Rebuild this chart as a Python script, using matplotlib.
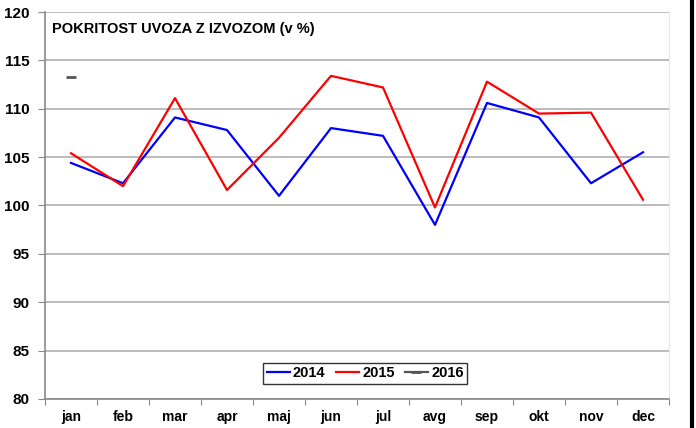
import matplotlib
matplotlib.use("Agg")
import matplotlib.pyplot as plt
from matplotlib.lines import Line2D

plt.rcParams['font.family'] = ['Liberation Sans', 'DejaVu Sans']
plt.rcParams['font.weight'] = 'bold'

# podatki
meseci = ["jan", "feb", "mar", "apr", "maj", "jun", "jul", "avg", "sep", "okt", "nov", "dec"]
v2014 = [104.4, 102.3, 109.1, 107.8, 101.0, 108.0, 107.2, 98.0, 110.6, 109.1, 102.3, 105.5]
v2015 = [105.4, 102.0, 111.1, 101.6, 107.0, 113.4, 112.2, 99.8, 112.8, 109.5, 109.6, 100.6]
v2016 = [113.3]

fig = plt.figure(figsize=(6.96, 4.28), dpi=100)
ax = fig.add_axes([45 / 696, 1 - 399 / 428, 624 / 696, 387 / 428])

x = list(range(len(meseci)))
ax.plot(x, v2014, color='#0000ff', lw=1.6, label='2014')
ax.plot(x, v2015, color='#ff0000', lw=1.6, label='2015')
ax.plot(x[:len(v2016)], v2016, color='#555555', lw=1.6, marker='_', ms=7, mew=2, label='2016')

ax.set_xlim(-0.5, 11.5)
ax.set_ylim(80, 120)
ax.set_yticks(range(80, 121, 5))
ax.set_xticks([i + 0.5 for i in range(-1, 12)], minor=False)
ax.set_xticklabels([])
ax.set_xticks(x, minor=True)
ax.set_xticklabels(meseci, minor=True)
ax.tick_params(axis='x', which='major', length=4, color='#888888', direction='out')
ax.tick_params(axis='x', which='minor', length=0, pad=8, labelsize=10)
ax.tick_params(axis='y', length=5, color='#888888', direction='out', labelsize=11, pad=6)
ax.grid(axis='y', color='#b0b0b0', lw=1.2)
ax.set_axisbelow(True)
for s in ['left', 'bottom']:
    ax.spines[s].set_color('#888888')
    ax.spines[s].set_linewidth(1.2)
ax.spines['top'].set_visible(False)
ax.spines['right'].set_color('#e6e6e6')

ax.text(0.012, 0.975, "POKRITOST UVOZA Z IZVOZOM (v %)", transform=ax.transAxes,
        fontsize=10.5, fontweight='bold', va='top', ha='left')

handles = [Line2D([], [], color='#0000ff', lw=1.6),
           Line2D([], [], color='#ff0000', lw=1.6),
           Line2D([], [], color='#555555', lw=1.6, marker='_', ms=7, mew=2)]
leg = ax.legend(handles, ['2014', '2015', '2016'], loc='lower center', ncol=3,
                bbox_to_anchor=(0.513, 0.039), frameon=True, fancybox=False,
                edgecolor='black', fontsize=10.5, handlelength=1.6, handletextpad=0.2,
                columnspacing=0.7, borderpad=0.25, borderaxespad=0)
leg.get_frame().set_linewidth(1.0)

# crna navpicna crta na desnem robu
fig.add_artist(Line2D([691.5 / 696, 691.5 / 696], [0, 1], color='black', lw=3,
                      transform=fig.transFigure))

fig.savefig("out.png", dpi=100)
